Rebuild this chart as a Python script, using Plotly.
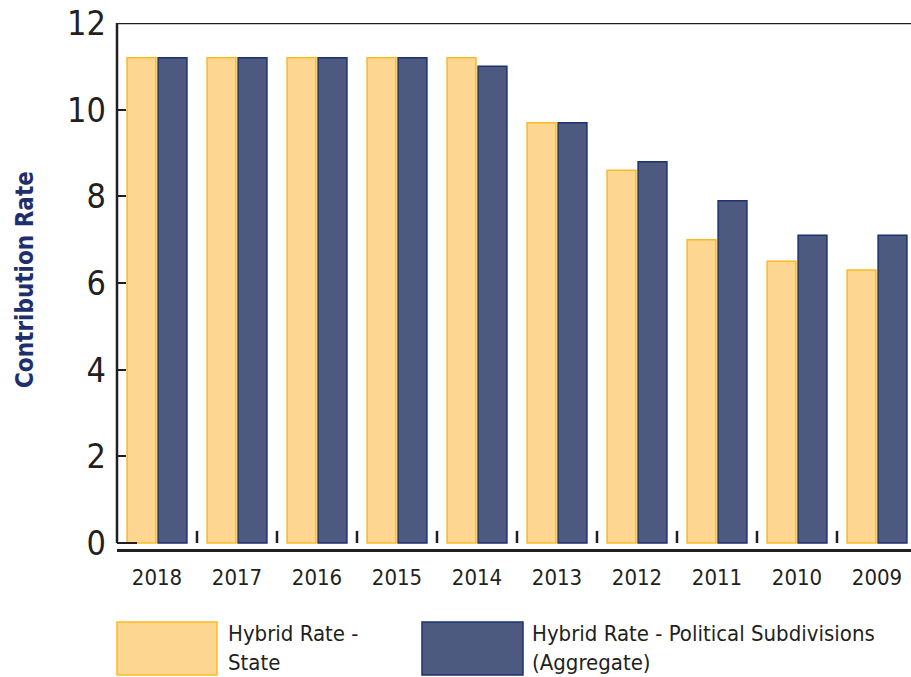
import plotly.graph_objects as go

# Contribution rates by fiscal year
years = ["2018", "2017", "2016", "2015", "2014", "2013", "2012", "2011", "2010", "2009"]
state_rate = [11.2, 11.2, 11.2, 11.2, 11.2, 9.7, 8.6, 7.0, 6.5, 6.3]
subdiv_rate = [11.2, 11.2, 11.2, 11.2, 11.0, 9.7, 8.8, 7.9, 7.1, 7.1]
y_ticks = [0, 2, 4, 6, 8, 10, 12]

series_names = ["Hybrid Rate -<br>State", "Hybrid Rate - Political Subdivisions<br>(Aggregate)"]

W, H = 911, 677
M_L, M_R, M_T, M_B = 117, 0, 23, 128
PLOT_W = W - M_L - M_R
PLOT_H = H - M_T - M_B

FONT = "Liberation Sans Narrow, DejaVu Sans Condensed, Arial Narrow, Roboto Condensed, sans-serif"
INK = "#231F20"
NAVY = "#1F2F6E"
GOLD_FILL, GOLD_LINE = "#FDD792", "#FBBA22"
BLUE_FILL, BLUE_LINE = "#4D5A80", "#1E3170"


def px_x(px):
    return (px - M_L) / PLOT_W


def px_y(py):
    return (H - M_B - py) / PLOT_H


fig = go.Figure()
fig.add_bar(x=years, y=state_rate, name="State",
            marker=dict(color=GOLD_FILL, line=dict(color=GOLD_LINE, width=1.5)))
fig.add_bar(x=years, y=subdiv_rate, name="Political Subdivisions",
            marker=dict(color=BLUE_FILL, line=dict(color=BLUE_LINE, width=1.5)))

shapes = []
# left axis line from 0 to 12, with a short foot at zero
shapes.append(dict(type="line", xref="paper", yref="y", x0=0, x1=0, y0=0, y1=12,
                   line=dict(color=INK, width=2.5)))
shapes.append(dict(type="line", xref="paper", yref="y", x0=0, x1=px_x(137), y0=0, y1=0,
                   line=dict(color=INK, width=2)))
# top frame line
shapes.append(dict(type="line", xref="paper", yref="y", x0=0, x1=1, y0=12, y1=12,
                   line=dict(color=INK, width=2.5)))
# small separators between year groups
for i in range(len(years) - 1):
    shapes.append(dict(type="line", xref="x", yref="y", x0=i + 0.5, x1=i + 0.5,
                       y0=0, y1=0.28, line=dict(color=INK, width=2.5)))

# legend boxes
legend_boxes = [(117, 217, GOLD_FILL, GOLD_LINE), (422, 523, BLUE_FILL, BLUE_LINE)]
for x0, x1, fill, edge in legend_boxes:
    shapes.append(dict(type="rect", xref="paper", yref="paper",
                       x0=px_x(x0), x1=px_x(x1), y0=px_y(675), y1=px_y(622),
                       fillcolor=fill, line=dict(color=edge, width=1.5)))

annotations = [
    dict(text="Contribution Rate", xref="paper", yref="paper", x=px_x(25), y=px_y(280),
         textangle=-90, showarrow=False, xanchor="center", yanchor="middle",
         font=dict(family=FONT, size=24, color=NAVY, weight="bold")),
]
for left, label in zip([226, 530], series_names):
    annotations.append(dict(text=label, xref="paper", yref="paper", x=px_x(left), y=px_y(648),
                            showarrow=False, xanchor="left", yanchor="middle", align="left",
                            font=dict(family=FONT, size=22, color=INK)))

fig.update_layout(
    width=W, height=H,
    margin=dict(l=M_L, r=M_R, t=M_T, b=M_B, pad=0),
    paper_bgcolor="white", plot_bgcolor="white",
    barmode="group", bargap=0.225, bargroupgap=0.07,
    showlegend=False,
    font=dict(family=FONT, color=INK),
    shapes=shapes, annotations=annotations,
)
fig.update_xaxes(
    type="category", range=[-0.5, -0.5 + PLOT_W / 80.0],
    showline=True, linecolor=INK, linewidth=3, showgrid=False, zeroline=False,
    ticks="", tickfont=dict(family=FONT, size=22, color=INK), ticklabelstandoff=7,
)
fig.update_yaxes(
    range=[-6 / 43.33, 12], tickvals=y_ticks, ticktext=[str(v) for v in y_ticks],
    showline=False, showgrid=False, zeroline=False,
    ticks="inside", ticklen=9, tickwidth=2, tickcolor=INK,
    tickfont=dict(family=FONT, size=34, color=INK), ticklabelstandoff=10,
)

fig.write_html("out.html")
